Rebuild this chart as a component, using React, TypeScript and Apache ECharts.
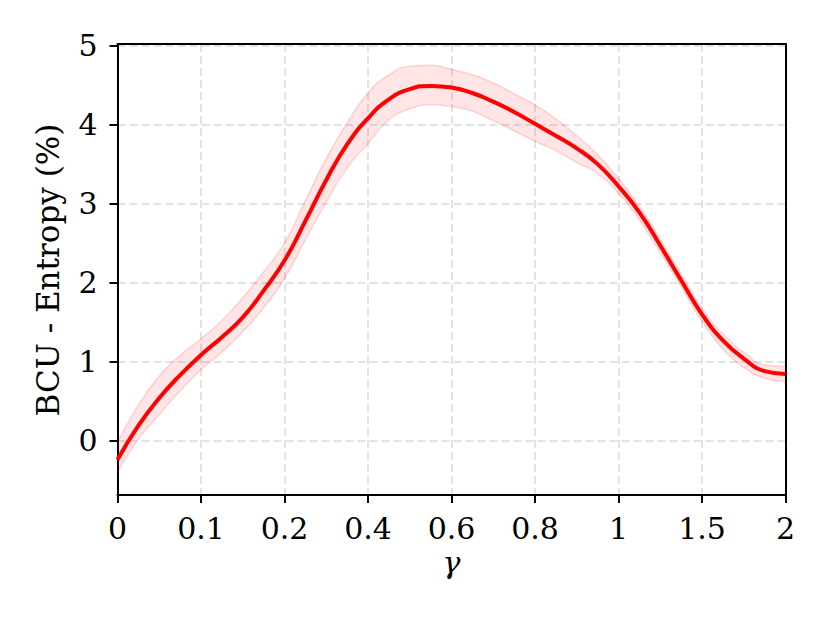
import React, { useEffect, useRef } from 'react';
import * as echarts from 'echarts';

const xTickLabels = ['0', '0.1', '0.2', '0.4', '0.6', '0.8', '1', '1.5', '2'];
const xPositions = [
  0, 0.25, 0.5, 0.75, 1, 1.25, 1.5, 1.75, 2, 2.25, 2.5, 2.75, 3, 3.25, 3.5, 3.75,
  4, 4.25, 4.5, 4.75, 5, 5.25, 5.5, 5.75, 6, 6.25, 6.5, 6.75, 7, 7.25, 7.5, 7.75, 8,
];
const meanValues = [
  -0.24, 0.19, 0.54, 0.83, 1.085, 1.31, 1.56, 1.9, 2.28, 2.78, 3.3, 3.75, 4.08, 4.32, 4.45, 4.49,
  4.47, 4.4, 4.29, 4.16, 4.01, 3.86, 3.7, 3.5, 3.22, 2.89, 2.47, 2.03, 1.6, 1.27, 1.04, 0.88, 0.845,
];
const upperValues = [
  -0.02, 0.45, 0.82, 1.08, 1.29, 1.52, 1.81, 2.14, 2.5, 3.04, 3.57, 4.02, 4.4, 4.63, 4.74, 4.75,
  4.7, 4.63, 4.53, 4.39, 4.25, 4.07, 3.86, 3.62, 3.32, 2.97, 2.55, 2.11, 1.68, 1.35, 1.12, 0.96, 0.94,
];
const lowerValues = [
  -0.4, 0.02, 0.33, 0.63, 0.895, 1.12, 1.38, 1.68, 2.05, 2.54, 3.02, 3.45, 3.76, 4.06, 4.2, 4.25,
  4.23, 4.17, 4.05, 3.92, 3.79, 3.67, 3.52, 3.38, 3.13, 2.79, 2.38, 1.95, 1.51, 1.16, 0.93, 0.79, 0.75,
];
const yTickValues = [0, 1, 2, 3, 4, 5];
const yMin = -0.687;
const yMax = 5.02;

const FONT = '"DejaVu Serif", serif';

export default function App() {
  const ref = useRef<HTMLDivElement>(null);
  useEffect(() => {
    if (!ref.current) return;
    const chart = echarts.init(ref.current, undefined, { renderer: 'svg' });
    const gridLineStyle = { color: '#e3e3e3', width: 2, type: [8, 4] as any };
    const isMajor = (idx: number) => Number.isInteger(xPositions[idx]);
    chart.setOption({
      animation: false,
      backgroundColor: '#ffffff',
      grid: { left: 117.5, right: 44.5, top: 44, bottom: 128 },
      xAxis: [
        {
          type: 'category',
          data: xPositions.map(String),
          boundaryGap: false,
          axisLine: { show: true, onZero: false, lineStyle: { color: '#000', width: 2 } },
          axisTick: {
            show: true,
            length: 8,
            interval: (idx: number) => isMajor(idx),
            lineStyle: { color: '#000', width: 2 },
          },
          axisLabel: {
            margin: 18,
            color: '#000',
            fontFamily: FONT,
            fontSize: 30,
            interval: (idx: number) => isMajor(idx),
            formatter: (v: string) => {
              const n = Number(v);
              return Number.isInteger(n) ? xTickLabels[n] : '';
            },
          },
          splitLine: { show: true, interval: (idx: number) => isMajor(idx), lineStyle: gridLineStyle },
          name: '\u03b3',
          nameLocation: 'middle',
          nameGap: 50,
          nameTextStyle: { color: '#000', fontFamily: FONT, fontSize: 30, fontStyle: 'italic' },
        },
        {
          type: 'value',
          position: 'top',
          min: 0,
          max: 8,
          interval: 1,
          axisLine: { show: true, onZero: false, lineStyle: { color: '#000', width: 2 } },
          axisTick: { show: false },
          axisLabel: { show: false },
          splitLine: { show: false },
        },
      ],
      yAxis: [
        {
          type: 'value',
          min: yMin,
          max: yMax,
          axisLine: { show: true, onZero: false, lineStyle: { color: '#000', width: 2 } },
          axisTick: { show: true, length: 8, customValues: yTickValues, lineStyle: { color: '#000', width: 2 } },
          axisLabel: {
            margin: 20,
            color: '#000',
            fontFamily: FONT,
            fontSize: 30,
            customValues: yTickValues,
          },
          splitLine: { show: true, lineStyle: gridLineStyle },
        },
        {
          type: 'value',
          position: 'right',
          min: yMin,
          max: yMax,
          axisLine: { show: true, onZero: false, lineStyle: { color: '#000', width: 2 } },
          axisTick: { show: false },
          axisLabel: { show: false },
          splitLine: { show: false },
        },
      ],
      graphic: [
        {
          type: 'text',
          x: 48,
          y: 270,
          rotation: Math.PI / 2,
          style: {
            text: 'BCU - Entropy (%)',
            font: '31px "DejaVu Serif", serif',
            fill: '#000',
            textAlign: 'center',
            textVerticalAlign: 'middle',
          },
        },
      ],
      series: [
        {
          type: 'line',
          stack: 'band',
          stackStrategy: 'all',
          data: lowerValues,
          smooth: 0.5,
          symbol: 'none',
          lineStyle: { color: 'rgba(255,0,0,0.14)', width: 1.5 },
          silent: true,
          z: 1,
        },
        {
          type: 'line',
          stack: 'band',
          stackStrategy: 'all',
          data: upperValues.map((u, i) => u - lowerValues[i]),
          smooth: 0.5,
          symbol: 'none',
          lineStyle: { color: 'rgba(255,0,0,0.14)', width: 1.5 },
          areaStyle: { color: 'rgba(255,0,0,0.1)', opacity: 1 },
          silent: true,
          z: 1,
        },
        {
          type: 'line',
          data: meanValues,
          smooth: 0.5,
          symbol: 'none',
          lineStyle: { color: '#ff0000', width: 4 },
          z: 3,
        },
      ],
    });
    return () => chart.dispose();
  }, []);
  return <div ref={ref} style={{ width: 830, height: 623, position: 'absolute', left: 0, top: 0 }} />;
}
